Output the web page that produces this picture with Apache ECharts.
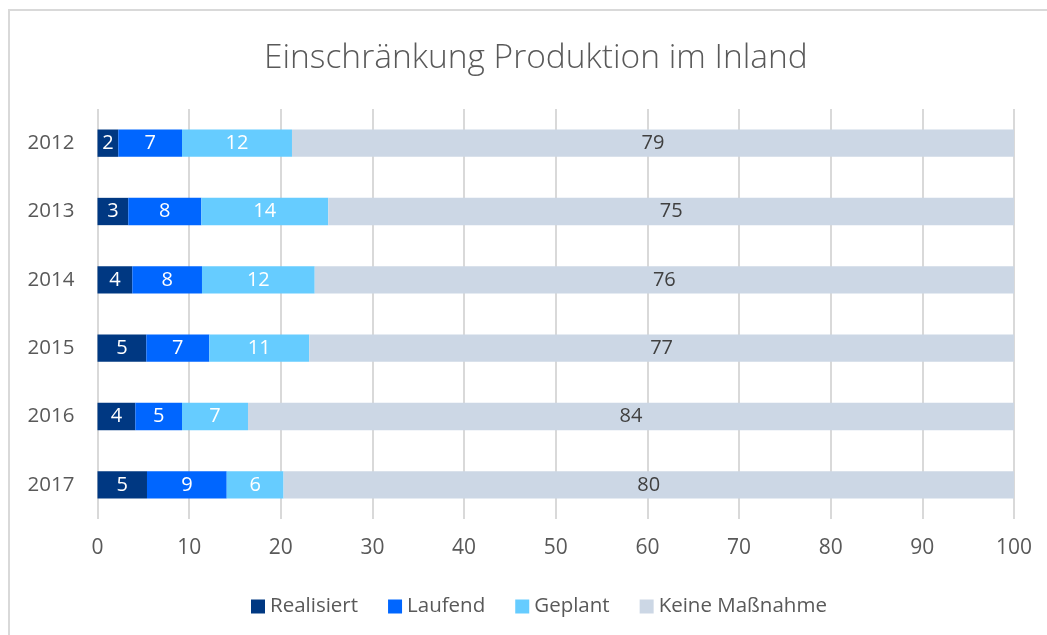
<!DOCTYPE html>
<html>
<head>
<meta charset="utf-8">
<script src="https://cdn.jsdelivr.net/npm/echarts@6/dist/echarts.min.js"></script>
<style>
html,body{margin:0;padding:0;background:#fff;}
#c{width:1047px;height:635px;}
</style>
</head>
<body>
<div id="c"></div>
<script>
const categories = ['2012', '2013', '2014', '2015', '2016', '2017'];
const realisiert = [2.27, 3.36, 3.8, 5.33, 4.13, 5.4];
const laufend = [6.95, 7.97, 7.6, 6.87, 5.09, 8.7];
const geplant = [12.0, 13.85, 12.3, 10.9, 7.2, 6.2];
const keineMassnahme = [78.78, 74.82, 76.3, 76.9, 83.58, 79.7];
const xTicks = [0, 10, 20, 30, 40, 50, 60, 70, 80, 90, 100];

const FONT = '"Open Sans", sans-serif';
const chart = echarts.init(document.getElementById('c'), null, {renderer: 'canvas'});

function mk(name, data, color, labelColor) {
  return {
    name: name,
    type: 'bar',
    stack: 'total',
    data: data,
    barWidth: '40%',
    itemStyle: {color: color},
    label: {
      show: true,
      position: 'inside',
      color: labelColor,
      fontFamily: FONT,
      fontSize: 20,
      formatter: p => Math.round(p.value)
    },
    emphasis: {disabled: true}
  };
}

chart.setOption({
  animation: false,
  backgroundColor: '#ffffff',
  graphic: [{
    type: 'rect',
    shape: {x: 9, y: 10, width: 1100, height: 700},
    style: {fill: 'none', stroke: '#d9d9d9', lineWidth: 2},
    silent: true
  }],
  title: {
    text: 'Einschränkung Produktion im Inland',
    left: 259,
    top: 36,
    textStyle: {fontFamily: FONT, fontWeight: 300, fontSize: 33.5, color: '#595959'}
  },
  legend: {
    top: 591,
    left: 246,
    icon: 'rect',
    itemWidth: 14,
    itemHeight: 14,
    itemGap: 30,
    textStyle: {fontFamily: FONT, fontSize: 20.5, color: '#595959'},
    data: ['Realisiert', 'Laufend', 'Geplant', 'Keine Maßnahme']
  },
  grid: {left: 97.5, right: 33, top: 109, bottom: 116, containLabel: false},
  xAxis: {
    type: 'value',
    min: 0,
    max: 100,
    interval: 10,
    axisLine: {show: false},
    axisTick: {show: false},
    splitLine: {show: true, lineStyle: {color: '#d9d9d9', width: 2}},
    axisLabel: {
      fontFamily: FONT, fontSize: 21, color: '#595959', margin: 19,
      formatter: v => xTicks.indexOf(v) >= 0 ? String(v) : ''
    }
  },
  yAxis: {
    type: 'category',
    inverse: true,
    data: categories,
    axisLine: {show: false},
    axisTick: {show: false},
    axisLabel: {fontFamily: FONT, fontSize: 20.5, color: '#595959', margin: 23}
  },
  series: [
    mk('Realisiert', realisiert, '#003882', '#ffffff'),
    mk('Laufend', laufend, '#0066ff', '#ffffff'),
    mk('Geplant', geplant, '#66ccff', '#ffffff'),
    mk('Keine Maßnahme', keineMassnahme, '#ccd7e5', '#404040')
  ]
});
</script>
</body>
</html>
